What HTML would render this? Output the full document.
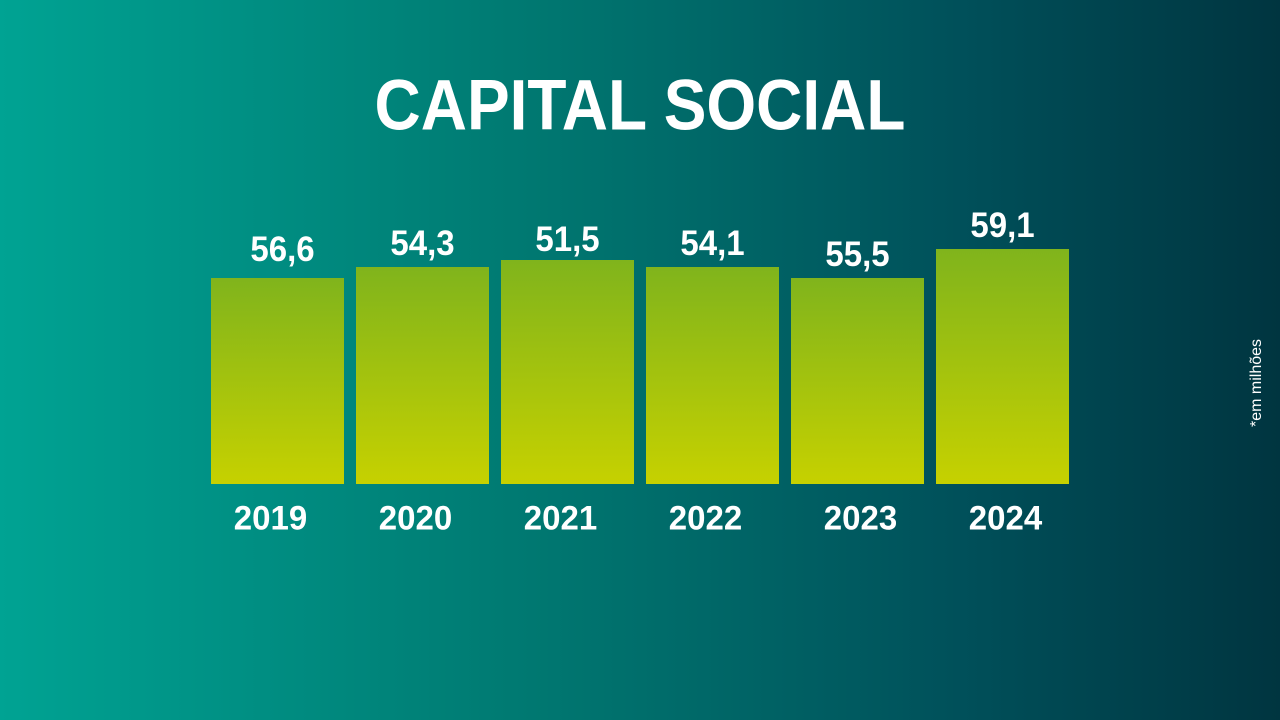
<!DOCTYPE html>
<html><head><meta charset="utf-8"><style>
html,body{margin:0;padding:0}
body{width:1280px;height:720px;overflow:hidden;position:relative;background:linear-gradient(90deg,#00a393 0%,#007a72 40%,#00505a 75%,#003540 100%);font-family:"Liberation Sans",sans-serif;color:#fff;font-weight:bold}
.t{position:absolute;white-space:nowrap;text-align:center;transform-origin:center center}
.bar{position:absolute;width:133px;bottom:236px;background:linear-gradient(180deg,#80b41c,#c6d100)}
</style></head><body>
<div class="t" style="left:0;width:1280px;top:65px;font-size:64px;line-height:80px;transform:scaleY(1.12)">CAPITAL SOCIAL</div>

<div class="bar" style="left:211px;top:278px"></div>
<div class="bar" style="left:356px;top:267px"></div>
<div class="bar" style="left:501px;top:260px"></div>
<div class="bar" style="left:646px;top:267px"></div>
<div class="bar" style="left:791px;top:278px"></div>
<div class="bar" style="left:936px;top:249px"></div>

<div class="t" style="left:211px;width:143px;top:229px;font-size:33px;line-height:40px;transform:scaleY(1.08)">56,6</div>
<div class="t" style="left:351px;width:143px;top:223px;font-size:33px;line-height:40px;transform:scaleY(1.08)">54,3</div>
<div class="t" style="left:496px;width:143px;top:219px;font-size:33px;line-height:40px;transform:scaleY(1.08)">51,5</div>
<div class="t" style="left:641px;width:143px;top:223px;font-size:33px;line-height:40px;transform:scaleY(1.08)">54,1</div>
<div class="t" style="left:786px;width:143px;top:234px;font-size:33px;line-height:40px;transform:scaleY(1.08)">55,5</div>
<div class="t" style="left:931px;width:143px;top:205px;font-size:33px;line-height:40px;transform:scaleY(1.08)">59,1</div>

<div class="t" style="left:199px;width:143px;top:498px;font-size:33px;line-height:40px;transform:scaleY(1.05)">2019</div>
<div class="t" style="left:344px;width:143px;top:498px;font-size:33px;line-height:40px;transform:scaleY(1.05)">2020</div>
<div class="t" style="left:489px;width:143px;top:498px;font-size:33px;line-height:40px;transform:scaleY(1.05)">2021</div>
<div class="t" style="left:634px;width:143px;top:498px;font-size:33px;line-height:40px;transform:scaleY(1.05)">2022</div>
<div class="t" style="left:789px;width:143px;top:498px;font-size:33px;line-height:40px;transform:scaleY(1.05)">2023</div>
<div class="t" style="left:934px;width:143px;top:498px;font-size:33px;line-height:40px;transform:scaleY(1.05)">2024</div>

<div class="t" style="left:1197px;width:120px;top:373px;font-size:16px;line-height:20px;font-weight:normal;transform:rotate(-90deg)">*em milhões</div>
</body></html>
